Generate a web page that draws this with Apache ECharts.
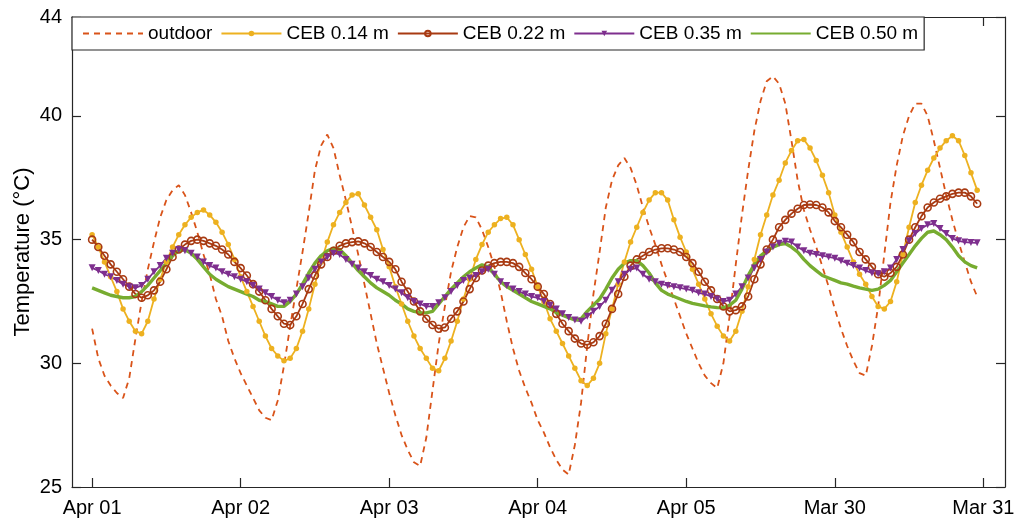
<!DOCTYPE html>
<html>
<head>
<meta charset="utf-8">
<script src="https://cdn.jsdelivr.net/npm/echarts@6/dist/echarts.min.js"></script>
<style>
  html, body { margin: 0; padding: 0; background: #fff; }
  #chart { width: 1018px; height: 521px; }
</style>
</head>
<body>
<div id="chart"></div>
<script>
// hourly readings, hour 0 = Apr 01 00:00
const tickHours = [0, 24, 48, 72, 96, 120, 144];
const tickLabels = ["Apr 01", "Apr 02", "Apr 03", "Apr 04", "Apr 05", "Mar 30", "Mar 31"];
const yTicks = [25, 30, 35, 40, 44];

const outdoor = [
  31.4, 30.2, 29.5, 29.1, 28.8, 28.6, 29.4, 31.0, 32.5, 33.8,
  34.9, 35.9, 36.6, 37.0, 37.2, 36.8, 36.1, 35.3, 34.4, 33.6,
  32.6, 31.9, 30.9, 30.2, 29.6, 29.1, 28.6, 28.1, 27.8, 27.7,
  28.5, 29.9, 31.5, 33.0, 34.5, 36.1, 37.8, 38.8, 39.25, 38.7,
  37.6, 36.6, 35.5, 34.4, 33.2, 32.0, 30.8, 29.8, 28.8, 27.9,
  27.1, 26.5, 26.0, 25.85, 27.0, 28.9, 30.8, 32.3, 33.7, 34.7,
  35.5, 35.95, 35.9, 35.4, 34.7, 33.9, 32.9, 31.7, 30.6, 29.7,
  29.0, 28.4, 27.7, 27.2, 26.6, 26.1, 25.7, 25.5, 26.7, 28.4,
  30.7, 32.8, 34.5, 36.3, 37.4, 38.0, 38.3, 37.9, 37.2, 36.3,
  35.5, 34.8, 34.0, 33.3, 32.6, 31.9, 31.2, 30.6, 30.0, 29.5,
  29.2, 29.0, 30.0, 31.9, 34.0, 36.0, 37.8, 39.4, 40.6, 41.4,
  41.6, 41.3, 40.5, 39.0, 37.4, 36.2, 35.4, 34.7, 33.9, 33.1,
  32.2, 31.4, 30.7, 30.1, 29.6, 29.5, 30.7, 32.3, 34.4, 36.5,
  38.0, 39.2, 40.0, 40.5, 40.5, 40.0, 39.0, 37.9, 36.8, 35.8,
  34.9, 34.1, 33.3, 32.7
];

const ceb014 = [
  35.2, 34.7, 34.1, 33.5, 32.9, 32.2, 31.7, 31.3, 31.2, 31.7,
  32.6, 33.4, 34.1, 34.7, 35.2, 35.6, 35.9, 36.1, 36.2, 36.0,
  35.7, 35.3, 34.8, 34.2, 33.5, 32.9, 32.3, 31.7, 31.1, 30.6,
  30.3, 30.1, 30.2, 30.6, 31.3, 32.2, 33.2, 34.1, 34.9, 35.6,
  36.1, 36.5, 36.8, 36.85, 36.4, 35.9, 35.4, 34.6, 33.9, 33.1,
  32.4, 31.7, 31.1, 30.6, 30.2, 29.8, 29.7, 30.2, 30.9, 31.7,
  32.6, 33.4, 34.2, 34.8, 35.3, 35.6, 35.85, 35.9, 35.6, 35.0,
  34.4, 33.8, 33.1, 32.5, 31.8, 31.3, 30.8, 30.3, 29.8, 29.3,
  29.1, 29.4, 30.0, 31.2, 32.2, 33.2, 34.1, 34.9, 35.5, 36.1,
  36.6, 36.9, 36.9, 36.6, 35.8, 35.1, 34.5, 33.8, 33.2, 32.6,
  32.0, 31.5, 31.1, 30.9, 31.3, 32.1, 33.1, 34.2, 35.2, 36.0,
  36.8, 37.4, 38.1, 38.6, 39.0, 39.05, 38.7, 38.2, 37.6, 36.9,
  36.0, 35.3, 34.7, 34.1, 33.6, 33.2, 32.7, 32.3, 32.2, 32.5,
  33.3, 34.4, 35.5, 36.5, 37.2, 37.8, 38.3, 38.7, 39.0, 39.2,
  39.0, 38.4, 37.7, 37.0
];

const ceb022 = [
  35.0, 34.7, 34.35, 34.0, 33.7, 33.4, 33.1, 32.8, 32.65, 32.75,
  32.95, 33.3, 33.8, 34.3, 34.6, 34.8, 34.95, 35.0, 34.95, 34.85,
  34.75, 34.6, 34.4, 34.1, 33.85, 33.55, 33.2, 32.9, 32.55, 32.2,
  31.9, 31.6, 31.55, 31.9, 32.4, 33.0, 33.55, 34.0, 34.3, 34.55,
  34.75, 34.85, 34.9, 34.93, 34.85, 34.7, 34.5, 34.3, 34.1, 33.8,
  33.3, 32.9, 32.5, 32.1, 31.8, 31.55, 31.4, 31.45, 31.8, 32.1,
  32.5, 33.0, 33.45, 33.75, 33.95, 34.05, 34.1, 34.1, 34.05, 33.9,
  33.65, 33.4, 33.1, 32.8, 32.4, 32.0, 31.6, 31.3, 31.0, 30.8,
  30.75, 30.85, 31.1, 31.6, 32.2, 32.8, 33.5, 33.95, 34.2, 34.35,
  34.5, 34.6, 34.65, 34.65, 34.6, 34.5, 34.3, 34.05, 33.7, 33.3,
  32.95, 32.6, 32.3, 32.1, 32.15, 32.3, 32.7, 33.4, 34.0, 34.6,
  35.0, 35.5, 35.8, 36.05, 36.25, 36.4, 36.42, 36.4, 36.3, 36.1,
  35.75, 35.5, 35.2, 34.9, 34.5, 34.2, 33.9, 33.6, 33.5, 33.65,
  33.9, 34.4, 35.0, 35.5, 35.95, 36.3, 36.5, 36.65, 36.75, 36.85,
  36.9, 36.9, 36.75, 36.45
];

const ceb035 = [
  33.86, 33.75, 33.6, 33.5, 33.35, 33.2, 33.1, 33.05, 33.15, 33.4,
  33.7, 33.95, 34.25, 34.45, 34.6, 34.55, 34.45, 34.3, 34.1, 33.95,
  33.85, 33.7, 33.6, 33.5, 33.4, 33.3, 33.15, 33.0, 32.85, 32.7,
  32.55, 32.45, 32.55, 32.8, 33.1, 33.45, 33.8, 34.1, 34.3, 34.45,
  34.4, 34.2, 34.0, 33.85, 33.7, 33.55, 33.4, 33.3, 33.15, 33.0,
  32.85, 32.65, 32.5, 32.4, 32.3, 32.3, 32.45, 32.65, 32.9, 33.15,
  33.35, 33.45, 33.55, 33.7, 33.8, 33.6, 33.3, 33.15, 33.0, 32.9,
  32.8, 32.7, 32.65, 32.5, 32.35, 32.2, 32.0, 31.85, 31.75, 31.7,
  31.9, 32.1, 32.3, 32.55, 32.95, 33.3, 33.6, 33.8, 33.85, 33.6,
  33.4, 33.3, 33.2, 33.15, 33.1, 33.05, 33.0, 32.95, 32.85, 32.8,
  32.7, 32.6, 32.5, 32.55, 32.8, 33.1, 33.45, 33.85, 34.2, 34.5,
  34.7, 34.85, 34.93, 34.9, 34.7, 34.55, 34.45, 34.4, 34.35, 34.3,
  34.25, 34.15, 34.05, 33.95, 33.85, 33.75, 33.65, 33.62, 33.7, 33.85,
  34.2, 34.6, 34.95, 35.25, 35.45, 35.6, 35.65, 35.45, 35.25, 35.05,
  34.95, 34.9, 34.88, 34.87
];

const ceb050 = [
  33.05, 32.95, 32.85, 32.75, 32.7, 32.65, 32.65, 32.7, 32.9, 33.15,
  33.45, 33.75, 34.05, 34.35, 34.55, 34.6, 34.45, 34.2, 33.9, 33.6,
  33.4, 33.25, 33.1, 33.0, 32.9, 32.8, 32.7, 32.55, 32.5, 32.4,
  32.3, 32.3, 32.5, 32.8, 33.2, 33.65, 34.05, 34.35, 34.55, 34.65,
  34.6, 34.35, 34.05, 33.75, 33.5, 33.25, 33.05, 32.9, 32.75, 32.55,
  32.4, 32.2, 32.1, 32.05, 32.04, 32.1, 32.4, 32.7, 33.0, 33.25,
  33.5, 33.7, 33.85, 33.98, 33.9, 33.6, 33.3, 33.1, 32.95, 32.8,
  32.65, 32.5, 32.4, 32.3, 32.2, 32.05, 31.95, 31.85, 31.75, 31.8,
  32.1, 32.35, 32.6, 33.0, 33.45, 33.8, 34.05, 34.15, 34.15, 33.95,
  33.65, 33.25, 32.95, 32.8, 32.7, 32.6, 32.5, 32.42, 32.37, 32.32,
  32.28, 32.25, 32.24, 32.35, 32.55, 33.0, 33.55, 34.0, 34.35, 34.55,
  34.7, 34.8, 34.84, 34.7, 34.5, 34.2, 33.95, 33.75, 33.55, 33.45,
  33.35, 33.25, 33.2, 33.12, 33.05, 33.0, 32.95, 33.0, 33.15, 33.35,
  33.7, 34.05, 34.4, 34.75, 35.05, 35.3, 35.35, 35.2, 35.0, 34.7,
  34.35, 34.1, 33.95, 33.86
];

const font = "'Liberation Sans', Arial, Helvetica, sans-serif";
const ink = "#262626";

// hour index -> [hour, value]
function pairs(arr) {
  return arr.map((v, i) => [i, v]);
}

const chart = echarts.init(document.getElementById("chart"));

const frame = { show: true, onZero: false, lineStyle: { color: ink, width: 1.2 } };
const innerTick = { show: true, inside: true, length: 9, lineStyle: { color: ink, width: 1.2 } };

chart.setOption({
  animation: false,
  backgroundColor: "#fff",
  grid: { left: 72, right: 13, top: 17, bottom: 34 },
  legend: {
    left: 72,
    top: 17,
    itemWidth: 60,
    itemHeight: 7,
    itemGap: 8,
    padding: [7, 6, 7, 10],
    borderColor: ink,
    borderWidth: 1.2,
    borderRadius: 0,
    backgroundColor: "#fff",
    textStyle: { fontFamily: font, fontSize: 19, color: "#000" },
    data: [
      // plain lines in the key, no marker
      { name: "outdoor", itemStyle: { opacity: 0 } },
      "CEB 0.14 m",
      "CEB 0.22 m",
      "CEB 0.35 m",
      { name: "CEB 0.50 m", itemStyle: { opacity: 0 } }
    ]
  },
  xAxis: [
    {
      type: "value",
      min: -3.25,
      max: 147.5,
      axisLine: frame,
      axisTick: Object.assign({ customValues: tickHours }, innerTick),
      splitLine: { show: false },
      axisLabel: {
        customValues: tickHours,
        margin: 11,
        fontFamily: font,
        fontSize: 20,
        color: "#000",
        formatter: v => tickLabels[tickHours.indexOf(v)]
      }
    },
    {
      type: "value",
      position: "top",
      min: -3.25,
      max: 147.5,
      axisLine: frame,
      axisTick: Object.assign({ customValues: tickHours }, innerTick),
      axisLabel: { show: false },
      splitLine: { show: false }
    }
  ],
  yAxis: [
    {
      type: "value",
      min: 25,
      max: 44,
      name: "Temperature (°C)",
      nameLocation: "middle",
      nameGap: 38,
      nameMoveOverlap: false,
      nameTextStyle: { fontFamily: font, fontSize: 22, color: "#000" },
      axisLine: frame,
      axisTick: Object.assign({ customValues: yTicks }, innerTick),
      splitLine: { show: false },
      axisLabel: {
        customValues: yTicks,
        margin: 10,
        fontFamily: font,
        fontSize: 20,
        color: "#000"
      }
    },
    {
      type: "value",
      position: "right",
      min: 25,
      max: 44,
      axisLine: frame,
      axisTick: Object.assign({ customValues: yTicks }, innerTick),
      axisLabel: { show: false },
      splitLine: { show: false }
    }
  ],
  series: [
    {
      name: "outdoor",
      type: "line",
      data: pairs(outdoor),
      symbol: "none",
      lineStyle: { color: "#D95319", width: 1.8, type: [6, 5] },
      itemStyle: { color: "#D95319" }
    },
    {
      name: "CEB 0.14 m",
      type: "line",
      data: pairs(ceb014),
      symbol: "circle",
      symbolSize: 5.5,
      lineStyle: { color: "#EDB120", width: 1.8 },
      itemStyle: { color: "#EDB120" }
    },
    {
      name: "CEB 0.22 m",
      type: "line",
      data: pairs(ceb022),
      symbol: "circle",
      symbolSize: 7,
      lineStyle: { color: "#A83A12", width: 1.8 },
      itemStyle: { color: "rgba(0,0,0,0)", borderColor: "#A83A12", borderWidth: 1.6 }
    },
    {
      name: "CEB 0.35 m",
      type: "line",
      data: pairs(ceb035),
      symbol: "triangle",
      symbolRotate: 180,
      symbolSize: 7,
      lineStyle: { color: "#7E2F8E", width: 1.8 },
      itemStyle: { color: "#7E2F8E" }
    },
    {
      name: "CEB 0.50 m",
      type: "line",
      data: pairs(ceb050),
      symbol: "none",
      lineStyle: { color: "#77AC30", width: 3.4 },
      itemStyle: { color: "#77AC30" }
    }
  ]
});
</script>
</body>
</html>
